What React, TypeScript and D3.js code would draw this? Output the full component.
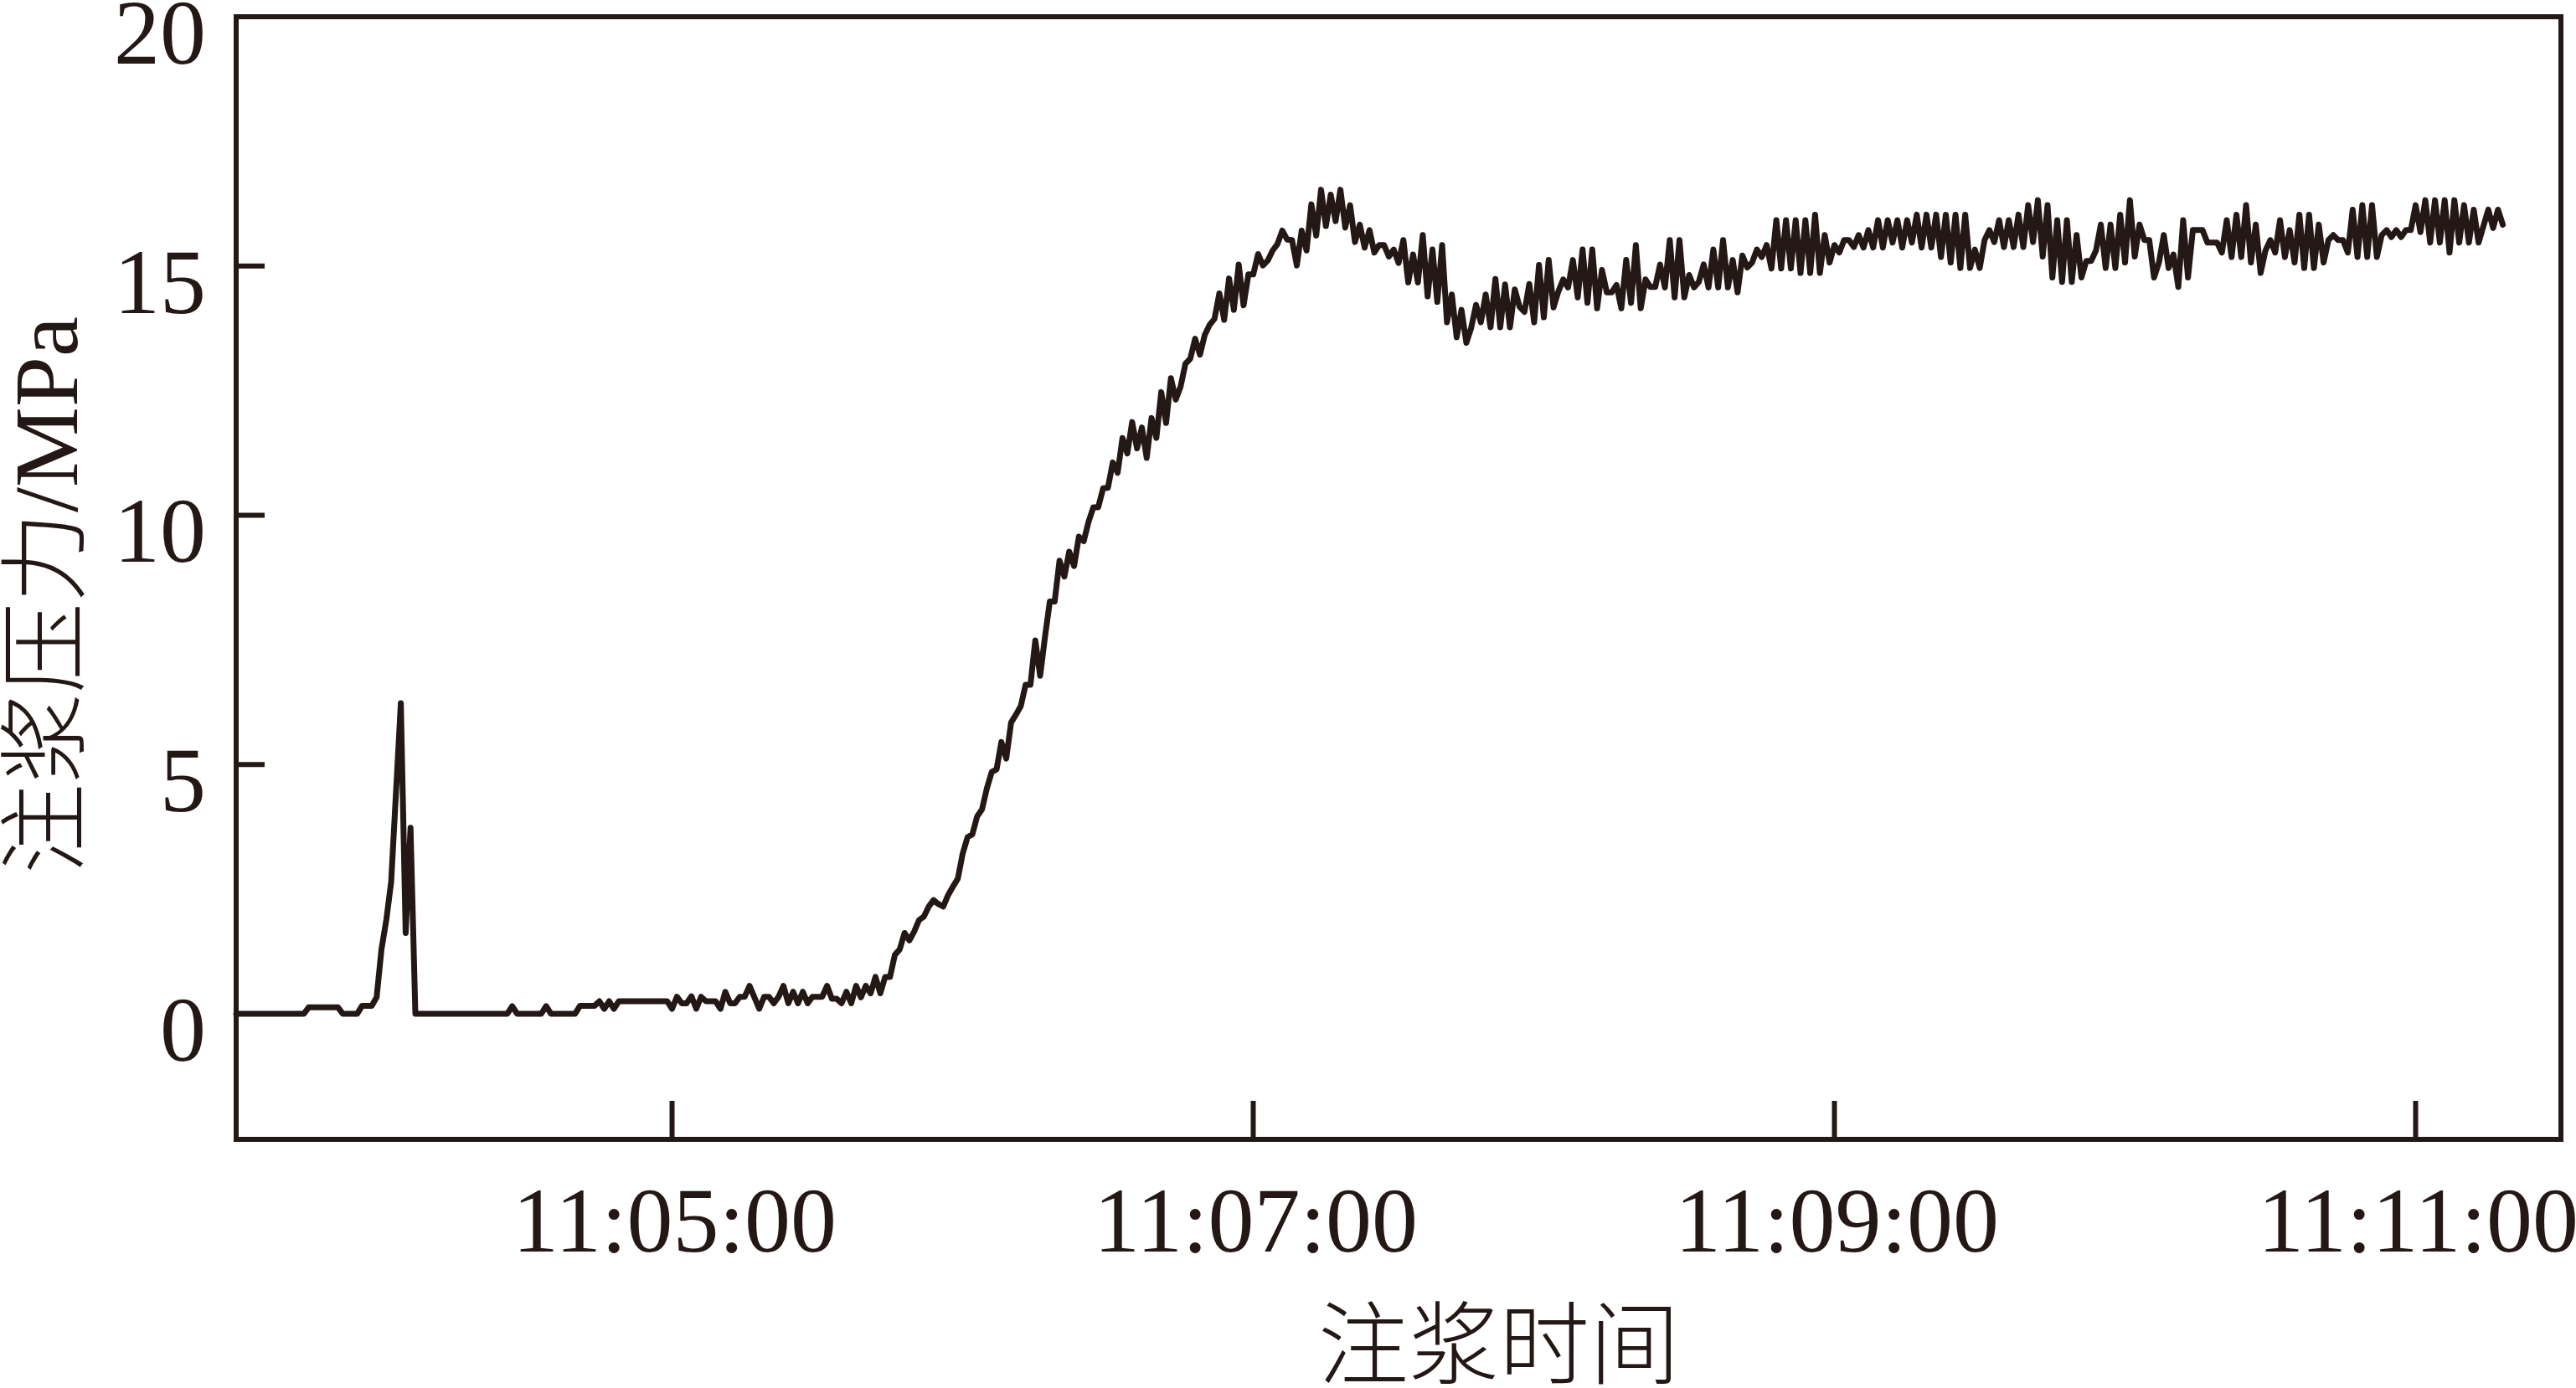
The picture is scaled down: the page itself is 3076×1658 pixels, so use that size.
import React from 'react';
import * as d3 from 'd3';

// time in seconds after 11:00:00, sampled about once per second
const timeSec = [
  210, 224, 225, 231, 232, 235, 236, 238, 239, 240,
  241, 242, 244, 245, 246, 247, 266, 267, 268, 273,
  274, 275, 280, 281, 284, 285, 286, 287, 288, 289,
  299, 300, 301, 302, 303, 304, 305, 306, 307, 309,
  310, 311, 312, 313, 314, 315, 316, 318, 319, 320,
  321, 322, 323, 324, 325, 326, 327, 328, 329, 331,
  332, 333, 334, 335, 336, 337, 338, 339, 340, 341,
  342, 343, 344, 345, 346, 347, 348, 349, 350, 351,
  352, 353, 354, 355, 356, 357, 358, 359, 360, 361,
  362, 363, 364, 365, 366, 367, 368, 369, 370, 371,
  372, 373, 374, 375, 376, 377, 378, 379, 380, 381,
  382, 383, 384, 385, 386, 387, 388, 389, 390, 391,
  392, 393, 394, 395, 396, 397, 398, 399, 400, 401,
  402, 403, 404, 405, 406, 407, 408, 409, 410, 411,
  412, 413, 414, 415, 416, 417, 418, 419, 420, 421,
  422, 423, 424, 425, 426, 427, 428, 429, 430, 431,
  432, 433, 434, 435, 436, 437, 438, 439, 440, 441,
  442, 443, 444, 445, 446, 447, 448, 449, 450, 451,
  452, 453, 454, 455, 456, 457, 458, 459, 460, 461,
  462, 463, 464, 465, 466, 467, 468, 469, 470, 471,
  472, 473, 474, 475, 476, 477, 478, 479, 480, 481,
  482, 483, 484, 485, 486, 487, 488, 489, 490, 491,
  492, 493, 494, 495, 496, 497, 498, 499, 500, 501,
  502, 503, 504, 505, 506, 507, 508, 509, 510, 511,
  512, 513, 514, 515, 516, 517, 518, 519, 520, 521,
  522, 523, 524, 525, 526, 527, 528, 529, 530, 531,
  532, 533, 534, 535, 536, 537, 538, 539, 540, 541,
  542, 543, 544, 545, 546, 547, 548, 549, 550, 551,
  552, 553, 554, 555, 556, 557, 558, 559, 560, 561,
  562, 563, 564, 565, 566, 567, 568, 569, 570, 571,
  572, 573, 574, 575, 576, 577, 578, 579, 580, 581,
  582, 583, 584, 585, 586, 587, 588, 589, 590, 591,
  592, 593, 594, 595, 596, 597, 598, 599, 600, 601,
  602, 603, 604, 605, 606, 607, 608, 609, 610, 611,
  612, 613, 614, 616, 617, 619,
  620, 621, 622, 623, 624, 625, 626, 627, 628, 629,
  630, 631, 632, 633, 634, 635, 636, 637, 638, 639,
  640, 641, 642, 643, 644, 645, 646, 647, 648, 649,
  650, 651, 652, 653, 654, 655, 656, 657, 658, 659,
  660, 661, 662, 663, 664, 665, 666, 667, 668, 669,
  670, 671, 672, 673, 675, 676, 677, 678,
];

// grouting pressure, MPa
const pressure = [
  0, 0, 0.13, 0.13, 0, 0, 0.16, 0.16, 0.33, 1.29,
  1.88, 2.64, 6.23, 1.62, 3.73, 0, 0, 0.15, 0, 0,
  0.15, 0, 0, 0.16, 0.16, 0.25, 0.10, 0.25, 0.10, 0.25,
  0.25, 0.10, 0.34, 0.21, 0.21, 0.35, 0.10, 0.34, 0.25, 0.25,
  0.10, 0.44, 0.21, 0.21, 0.34, 0.34, 0.56, 0.10, 0.34, 0.34,
  0.21, 0.34, 0.56, 0.21, 0.44, 0.21, 0.44, 0.21, 0.34, 0.34,
  0.56, 0.30, 0.30, 0.21, 0.44, 0.21, 0.56, 0.33, 0.56, 0.41,
  0.74, 0.41, 0.74, 0.74, 1.18, 1.29, 1.62, 1.47, 1.65, 1.88,
  1.95, 2.15, 2.28, 2.20, 2.15, 2.38, 2.55, 2.71, 3.21, 3.54,
  3.60, 3.96, 4.10, 4.52, 4.85, 4.90, 5.45, 5.12, 5.84, 6.00,
  6.17, 6.60, 6.60, 7.49, 6.78, 7.56, 8.27, 8.27, 9.09, 8.77,
  9.27, 8.98, 9.57, 9.48, 9.87, 10.16, 10.16, 10.54, 10.55, 11.06,
  10.85, 11.55, 11.24, 11.87, 11.34, 11.76, 11.15, 11.95, 11.55, 12.47,
  11.85, 12.75, 12.32, 12.58, 13.04, 13.14, 13.54, 13.22, 13.62, 13.82,
  13.94, 14.45, 13.92, 14.75, 14.12, 15.03, 14.21, 14.83, 14.83, 15.24,
  15.01, 15.11, 15.31, 15.44, 15.71, 15.53, 15.52, 15.01, 15.71, 15.31,
  16.24, 15.61, 16.53, 15.80, 16.43, 15.90, 16.53, 15.77, 16.22, 15.48,
  15.83, 15.37, 15.72, 15.27, 15.42, 15.42, 15.19, 15.33, 15.06, 15.52,
  14.67, 15.23, 14.67, 15.62, 14.39, 15.33, 14.28, 15.42, 13.87, 14.43,
  13.57, 14.12, 13.46, 13.76, 14.22, 13.87, 14.43, 13.77, 14.74, 13.77,
  14.63, 13.77, 14.53, 14.18, 14.08, 14.64, 13.87, 15.02, 13.97, 15.12,
  14.17, 14.49, 14.73, 14.57, 15.12, 14.37, 15.33, 14.26, 15.33, 14.15,
  14.92, 14.47, 14.47, 14.62, 14.15, 15.12, 14.26, 15.42, 14.15, 14.73,
  14.58, 14.58, 15.03, 14.57, 15.52, 14.37, 15.52, 14.37, 14.82, 14.57,
  14.68, 15.03, 14.57, 15.33, 14.57, 15.52, 14.57, 15.12, 14.47, 15.21,
  14.97, 15.07, 15.33, 15.18, 15.42, 14.95, 15.92, 14.95, 15.92, 14.95,
  15.92, 14.86, 15.92, 14.86, 16.03, 14.86, 15.62, 15.07, 15.42, 15.27,
  15.52, 15.52, 15.38, 15.62, 15.37, 15.72, 15.37, 15.92, 15.37, 15.92,
  15.47, 15.92, 15.37, 15.92, 15.47, 16.03, 15.37, 16.03, 15.37, 16.03,
  15.18, 16.03, 15.07, 16.03, 14.96, 16.03, 14.96, 15.33, 14.96, 15.52,
  15.72, 15.48, 15.92, 15.38, 15.92, 15.38, 16.03, 15.38, 16.22, 15.48,
  16.32, 15.19, 16.22, 14.77, 15.92, 14.68, 15.92, 14.68, 15.62, 14.77,
  15.10, 15.10, 15.31, 15.83, 14.96, 15.83, 14.96, 16.03, 15.07, 16.32,
  15.19, 15.83, 15.52, 15.52, 14.77, 15.07, 15.62, 14.96, 15.23, 14.58,
  15.92, 14.77, 15.72, 15.72, 15.47, 15.47,
  15.27, 15.92, 15.18, 16.03, 15.18, 16.22, 15.07, 15.83, 14.86, 15.31,
  15.52, 15.27, 15.92, 15.18, 15.72, 15.07, 16.03, 14.96, 16.03, 14.96,
  15.83, 15.07, 15.52, 15.62, 15.52, 15.52, 15.27, 16.13, 15.18, 16.22,
  15.18, 16.22, 15.18, 15.62, 15.72, 15.58, 15.72, 15.58, 15.72, 15.72,
  16.22, 15.68, 16.32, 15.47, 16.32, 15.47, 16.32, 15.27, 16.32, 15.47,
  16.22, 15.47, 16.13, 15.47, 16.13, 15.76, 16.13, 15.83,
];

const yTicks = [0, 5, 10, 15, 20];
const xTickLabels = ['11:05:00', '11:07:00', '11:09:00', '11:11:00'];
const xTitle = '注浆时间';
const yTitle = '注浆压力/MPa';

const W = 3076;
const H = 1658;
const plot = { left: 282, right: 3058, top: 20, bottom: 1361 };
const INK = '#231815';
const SERIF = "'Liberation Serif', 'Times New Roman', serif";
const MIXED = "'Liberation Serif', 'Noto Sans CJK SC', serif";

const toSec = (s: string) => {
  const [h, m, sec] = s.split(':').map(Number);
  return (h - 11) * 3600 + m * 60 + sec;
};

export default function App() {
  const x = d3.scaleLinear().domain([210, 690]).range([plot.left, plot.right]);
  const y = d3.scaleLinear().domain([-2.52, 20]).range([plot.bottom, plot.top]);

  const pts: [number, number][] = timeSec.map((t, i) => [t, pressure[i]]);
  const path = d3
    .line<[number, number]>()
    .x((d) => x(d[0]))
    .y((d) => y(d[1]))(pts) as string;

  return (
    <div style={{ position: 'absolute', left: 0, top: 0, width: W, height: H, overflow: 'hidden', background: '#fff' }}>
      <svg width={W} height={H} viewBox={`0 0 ${W} ${H}`} style={{ display: 'block' }}>
        <rect x={0} y={0} width={W} height={H} fill="#fff" />
        <path d={path} fill="none" stroke={INK} strokeWidth={7} strokeLinejoin="round" strokeLinecap="round" />
        <rect
          x={plot.left}
          y={plot.top}
          width={plot.right - plot.left}
          height={plot.bottom - plot.top}
          fill="none"
          stroke={INK}
          strokeWidth={6}
        />
        {yTicks.map((v) => (
          <g key={`y${v}`}>
            <line x1={plot.left} x2={plot.left + 34} y1={y(v)} y2={y(v)} stroke={INK} strokeWidth={6} />
            <text
              x={246}
              y={y(v) + 56}
              textAnchor="end"
              fontFamily={SERIF}
              fontSize={110}
              fill={INK}
            >
              {v}
            </text>
          </g>
        ))}
        {xTickLabels.map((lab) => {
          const xp = x(toSec(lab));
          return (
            <g key={lab}>
              <line x1={xp} x2={xp} y1={plot.bottom} y2={plot.bottom - 46} stroke={INK} strokeWidth={6} />
              <text x={xp + 3} y={1495} textAnchor="middle" fontFamily={SERIF} fontSize={110} fill={INK}>
                {lab}
              </text>
            </g>
          );
        })}
        <text x={1790} y={1645} textAnchor="middle" fontFamily={MIXED} fontSize={108} fontWeight={300} fill={INK}>
          {xTitle}
        </text>
        <text
          transform={`translate(92, 711) rotate(-90)`}
          textAnchor="middle"
          fontFamily={MIXED}
          fontSize={108}
          fontWeight={300}
          fill={INK}
        >
          {yTitle}
        </text>
      </svg>
    </div>
  );
}
